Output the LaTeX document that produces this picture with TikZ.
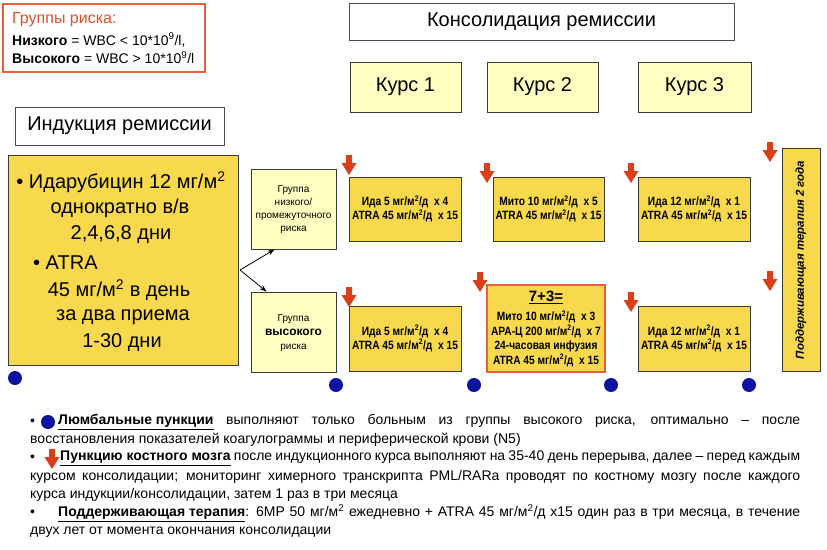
\documentclass[tikz,border=0pt]{standalone}
\usepackage{fontspec}
\setmainfont{Liberation Sans}
\newfontfamily\narrowf[FakeStretch=0.85]{Liberation Sans}
\usetikzlibrary{arrows.meta}
\definecolor{goldy}{HTML}{F8D84C}
\definecolor{paley}{HTML}{FFFFC2}
\definecolor{redo}{HTML}{D9401A}
\definecolor{bluedot}{HTML}{0A14A0}
\definecolor{edgegray}{HTML}{3A3A3A}
\definecolor{orangeb}{HTML}{E8603A}
\definecolor{titler}{HTML}{E0502A}
\tikzset{
  box/.style={draw=edgegray, line width=0.9pt, inner sep=0pt},
  paleb/.style={box, fill=paley},
  goldb/.style={box, fill=goldy},
  whiteb/.style={box, fill=white, draw=gray!60!black},
  head/.style={font=\fontsize{20}{24}\selectfont},
  bigt/.style={inner sep=0pt, font=\fontsize{20}{24}\selectfont},
  dose/.style={inner sep=0pt, align=center, font=\narrowf\bfseries\fontsize{12}{14}\selectfont},
  grp/.style={inner sep=0pt, align=center, font=\fontsize{10}{13}\selectfont},
  note/.style={inner sep=0pt, anchor=west, font=\fontsize{14}{18}\selectfont},
  risk/.style={inner sep=0pt, anchor=west, font=\fontsize{14}{18}\selectfont},
  dotm/.style={circle, fill=bluedot, minimum size=14pt, inner sep=0pt},
  conn/.style={-{Stealth[length=7pt,width=5pt]}, line width=0.8pt, black},
  marrow/.pic={\fill[redo] (-3,0) -- (3,0) -- (3,8) -- (7.5,8) -- (0,20) -- (-7.5,8) -- (-3,8) -- cycle;},
}
\begin{document}
\begin{tikzpicture}[x=1pt,y=-1pt]
\useasboundingbox (0,0) rectangle (827,549);
\fill[white] (0,0) rectangle (827,549);

% risk groups
\node[box, draw=orangeb, line width=1.4pt, fill=white, minimum width=202pt, minimum height=68pt] (riskbox) at (104,38) {};
\node[risk, text=titler, font=\fontsize{16}{18}\selectfont] (risk1) at (12,20) {Группы риска:};
\node[risk] (risk2) at (12,40) {\textbf{Низкого} = WBC < 10*10\textsuperscript{9}/l,};
\node[risk] (risk3) at (12,58) {\textbf{Высокого} = WBC > 10*10\textsuperscript{9}/l};

% headers
\node[whiteb, head, minimum width=385pt, minimum height=37pt] (kons) at (541.5,21.5) {Консолидация ремиссии};
\node[paleb, head, minimum width=111pt, minimum height=50pt] (kurs1) at (405.5,87) {Курс 1};
\node[paleb, head, minimum width=111pt, minimum height=50pt] (kurs2) at (542.5,87) {Курс 2};
\node[paleb, head, minimum width=113pt, minimum height=50pt] (kurs3) at (694.5,87) {Курс 3};
\node[whiteb, head, minimum width=209pt, minimum height=38pt] (ind) at (119.5,126) {Индукция ремиссии};

% induction box
\node[goldb, minimum width=230pt, minimum height=210pt] (big) at (123,260) {};
\node[bigt] (b1) at (121,182) {• Идарубицин 12 мг/м\textsuperscript{2}};
\node[bigt] (b2) at (120,208) {однократно в/в};
\node[bigt] (b3) at (121,235) {2,4,6,8 дни};
\node[bigt, anchor=west] (b4) at (33,263) {• ATRA};
\node[bigt] (b5) at (119,290) {45 мг/м\textsuperscript{2} в день};
\node[bigt] (b6) at (123,317) {за два приема};
\node[bigt] (b7) at (122,343) {1-30 дни};

% risk group boxes
\node[paleb, minimum width=85pt, minimum height=80pt] (lowg) at (293.5,209) {};
\node[grp] (lowt) at (293.5,210) {Группа\\низкого/\\промежуточного\\риска};
\node[paleb, minimum width=85pt, minimum height=80pt] (highg) at (293.5,332) {};
\node[grp] (hight) at (293.5,333) {Группа\\[1pt]{\bfseries\fontsize{12}{14}\selectfont высокого}\\[1pt]риска};

\coordinate (split) at (240,270);
\draw[conn] (split) -- ([xshift=24pt]lowg.south west);
\draw[conn] (split) -- ([xshift=16pt]highg.north west);

% low row
\node[goldb, dose, minimum width=112pt, minimum height=64pt] (c1l) at (405,209) {Ида 5 мг/м\textsuperscript{2}/д\ \ х 4\\ATRA 45 мг/м\textsuperscript{2}/д\ \ х 15};
\node[goldb, dose, minimum width=111pt, minimum height=64pt] (c2l) at (548.5,209) {Мито 10 мг/м\textsuperscript{2}/д\ \ х 5\\ATRA 45 мг/м\textsuperscript{2}/д\ \ х 15};
\node[goldb, dose, minimum width=112pt, minimum height=64pt] (c3l) at (694,209) {Ида 12 мг/м\textsuperscript{2}/д\ \ х 1\\ATRA 45 мг/м\textsuperscript{2}/д\ \ х 15};

% high row
\node[goldb, dose, minimum width=112pt, minimum height=65pt] (c1h) at (405,338.5) {Ида 5 мг/м\textsuperscript{2}/д\ \ х 4\\ATRA 45 мг/м\textsuperscript{2}/д\ \ х 15};
\node[goldb, draw=orangeb, line width=1.2pt, minimum width=118pt, minimum height=87pt] (c2h) at (546,328.5) {};
\node[inner sep=0pt, font=\bfseries\fontsize{15}{16}\selectfont] (c2ht) at (546,297) {\underline{7+3=}};
\node[dose, font=\narrowf\bfseries\fontsize{12}{14.5}\selectfont] (c2hb) at (546,338.5) {Мито 10 мг/м\textsuperscript{2}/д\ \ х 3\\АРА-Ц 200 мг/м\textsuperscript{2}/д\ \ х 7\\24-часовая инфузия\\ATRA 45 мг/м\textsuperscript{2}/д\ \ х 15};
\node[goldb, dose, minimum width=112pt, minimum height=65pt] (c3h) at (694,338.5) {Ида 12 мг/м\textsuperscript{2}/д\ \ х 1\\ATRA 45 мг/м\textsuperscript{2}/д\ \ х 15};

% maintenance
\node[goldb, minimum width=38pt, minimum height=223pt] (maint) at (801,259.5) {};
\node[inner sep=0pt, rotate=90, font=\bfseries\itshape\fontsize{11.5}{13}\selectfont] (maintt) at (801,260) {Поддерживающая терапия 2 года};

% red arrows
\pic at (349,155) {marrow};
\pic at (487,163) {marrow};
\pic at (631,163) {marrow};
\pic at (770,142) {marrow};
\pic at (770,271) {marrow};
\pic at (349,287) {marrow};
\pic at (480,272) {marrow};
\pic at (631,292) {marrow};

% blue dots
\node[dotm] (d0) at (15,378) {};
\node[dotm] (d1) at (336,385) {};
\node[dotm] (d2) at (474,385) {};
\node[dotm] (d3) at (611,385) {};
\node[dotm] (d4) at (749,385) {};

% notes
\node[note] (n1b) at (30,422) {•};
\node[dotm] (n1d) at (48,422) {};
\node[note] (n1) at (58,422) {\makebox[742pt][s]{\underline{\textbf{Люмбальные пункции}} выполняют только больным из группы высокого риска, оптимально – после}};
\node[note] (n2) at (30,440) {восстановления показателей коагулограммы и периферической крови (N5)};
\node[note] (n3b) at (30,458) {•};
\pic at (52,449) {marrow};
\node[note] (n3) at (60,458) {\makebox[740pt][s]{\underline{\textbf{Пункцию костного мозга}} после индукционного курса выполняют на 35-40 день перерыва, далее – перед каждым}};
\node[note] (n4) at (30,477) {\makebox[770pt][s]{курсом консолидации; мониторинг химерного транскрипта PML/RARa проводят по костному мозгу после каждого}};
\node[note] (n5) at (30,495) {курса индукции/консолидации, затем 1 раз в три месяца};
\node[note] (n6b) at (30,513) {•};
\node[note] (n6) at (58,513) {\makebox[742pt][s]{\underline{\textbf{Поддерживающая терапия}}: 6MP 50 мг/м\textsuperscript{2} ежедневно + ATRA 45 мг/м\textsuperscript{2}/д х15 один раз в три месяца, в течение}};
\node[note] (n7) at (30,532) {двух лет от момента окончания консолидации};
\end{tikzpicture}
\end{document}
